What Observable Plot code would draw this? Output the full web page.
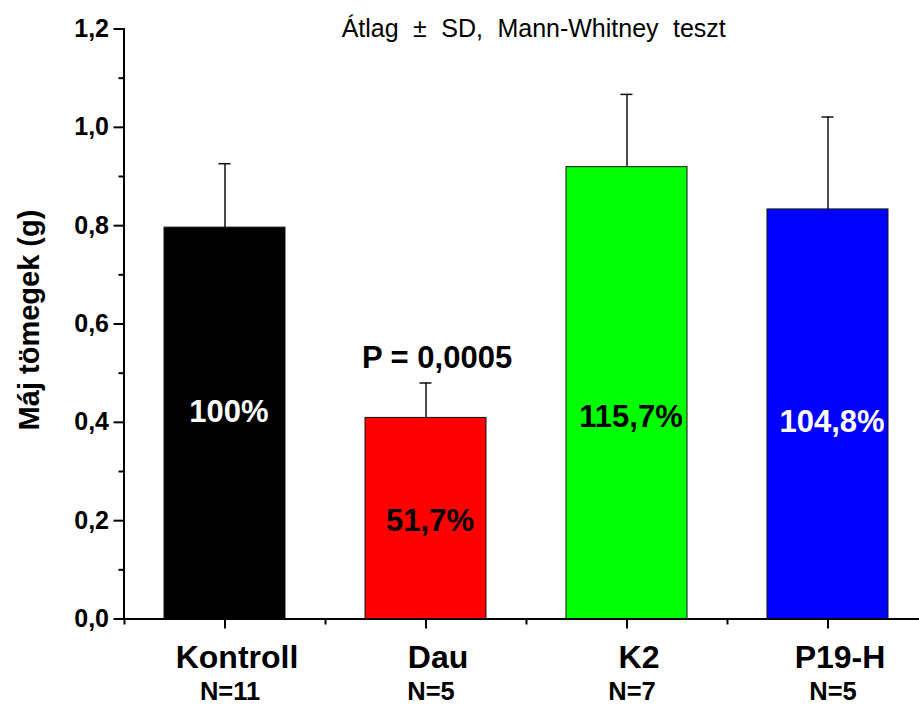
<!DOCTYPE html>
<html><head><meta charset="utf-8">
<script src="https://cdn.jsdelivr.net/npm/d3@7"></script>
<script src="https://cdn.jsdelivr.net/npm/@observablehq/plot@0.6"></script>
<style>body{margin:0;background:#fff}</style>
</head><body><div id="chart"></div>
<script>
const groups = ["Kontroll", "Dau", "K2", "P19-H"];
const nLabels = ["N=11", "N=5", "N=7", "N=5"];
const means = [0.796, 0.409, 0.919, 0.833];
const sds = [0.130, 0.071, 0.148, 0.188];
const pctLabels = ["100%", "51,7%", "115,7%", "104,8%"];
const pctLabelY = [0.42, 0.20, 0.41, 0.40];
const barColors = ["#000000", "#ff0000", "#00ff00", "#0000ff"];
const pctColors = ["#ffffff", "#000000", "#000000", "#ffffff"];
const yTicks = [0, 0.2, 0.4, 0.6, 0.8, 1.0, 1.2];
const yMinorTicks = [0.1, 0.3, 0.5, 0.7, 0.9, 1.1];
const pText = "P = 0,0005";
const pGroup = "Dau";
const pY = 0.511;
const title = "Átlag ± SD, Mann-Whitney teszt";
const yLabel = "Máj tömegek (g)";

const data = groups.map((g, i) => ({
  group: g, n: nLabels[i], mean: means[i], top: means[i] + sds[i],
  pct: pctLabels[i], labelY: pctLabelY[i], color: barColors[i], pctColor: pctColors[i]
}));

const font = "'Liberation Sans', Arial, Helvetica, sans-serif";

const chart = Plot.plot({
  width: 919, height: 704,
  marginLeft: 123.5, marginRight: 0, marginTop: 28.5, marginBottom: 85.5,
  style: {fontFamily: font, background: "white", color: "black"},
  x: {type: "band", domain: groups, range: [123.5, 927.5], paddingInner: 0.4, paddingOuter: 0.2, axis: null},
  y: {domain: [0, 1.2], range: [618.5, 28.5], axis: null},
  color: {type: "identity"},
  marks: [
    Plot.ruleX(data, {x: "group", y1: "mean", y2: "top", stroke: "#111", strokeWidth: 1.5}),
    Plot.tickY(data, {x: "group", y: "top", insetLeft: 54.5, insetRight: 54.5, stroke: "#111", strokeWidth: 1.5}),
    Plot.barY(data, {x: "group", y: "mean", fill: "color", stroke: "#111", strokeWidth: 1}),
    Plot.text(data, {x: "group", y: "labelY", text: "pct", fill: "pctColor", fontSize: 31, fontWeight: "bold", dx: 4}),
    Plot.text([pText], {x: () => pGroup, y: () => pY, text: d => d, fontSize: 31, fontWeight: "bold", lineAnchor: "bottom", dx: 11}),
    Plot.axisY({ticks: yTicks, tickSize: 10, tickPadding: 5, strokeWidth: 2,
      tickFormat: d => d.toFixed(1).replace(".", ","), fontSize: 25, fontWeight: "bold", label: null}),
    Plot.axisY({ticks: yMinorTicks, tickSize: 5, strokeWidth: 2, text: null, label: null}),
    Plot.axisX({ticks: groups, tickSize: 10, strokeWidth: 2, text: null, label: null}),
    Plot.axisX({ticks: groups, tickSize: 6, strokeWidth: 2, text: null, label: null, dx: -100.5}),
    Plot.ruleY([0], {strokeWidth: 2}),
    Plot.frame({anchor: "left", strokeWidth: 2}),
    Plot.text(data, {x: "group", text: "group", frameAnchor: "bottom", lineAnchor: "bottom", dy: 48.5, dx: 12, fontSize: 32, fontWeight: "bold"}),
    Plot.text(data, {x: "group", text: "n", frameAnchor: "bottom", lineAnchor: "bottom", dy: 81, dx: 5, fontSize: 25.5, fontWeight: "bold"}),
    Plot.text([title], {frameAnchor: "top", textAnchor: "middle", lineAnchor: "bottom", dx: 12, dy: 7.5, fontSize: 25}),
    Plot.text([yLabel], {frameAnchor: "left", textAnchor: "middle", rotate: -90, lineAnchor: "bottom", dx: -85.5, dy: -4, fontSize: 29, fontWeight: "bold"})
  ]
});
d3.select(chart).selectAll("text").filter(function() { return this.textContent === title; })
  .style("word-spacing", "7.5px");
document.getElementById("chart").appendChild(chart);
</script>
</body></html>
